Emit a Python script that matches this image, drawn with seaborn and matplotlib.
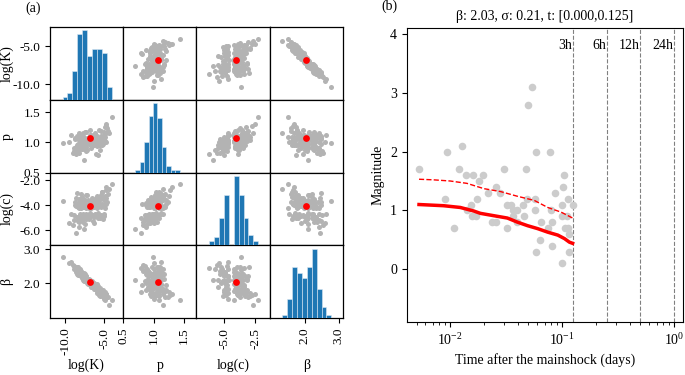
import matplotlib
matplotlib.use('Agg')
import matplotlib.pyplot as plt
from matplotlib import font_manager
import pandas as pd
import seaborn as sns
from matplotlib.ticker import FuncFormatter

# pick a Times-like serif that is actually installed
installed = {f.name for f in font_manager.fontManager.ttflist}
serif_choices = [f for f in ['Liberation Serif', 'Times New Roman', 'Nimbus Roman', 'FreeSerif']
                 if f in installed]
plt.rcParams['font.family'] = serif_choices + ['DejaVu Serif']
plt.rcParams['mathtext.fontset'] = 'stix'
plt.rcParams['font.size'] = 10

# posterior samples (grouped by log(c) band)
log_k = [-8.7,
         -7.6,
         -8.24, -6.29, -9.05, -7.49,
         -8.1, -9.5, -7.31, -8.42, -5.85, -7.79, -8.95, -6.45, -7.64, -8.3, -5.13, -7.95, -6.95,
         -8.85, -8.45, -8.17, -7.98, -7.82, -7.67, -7.46, -7.28, -7.1, -6.86, -6.66, -6.49,
         -6.33, -6.13, -5.97, -5.77, -5.57, -5.41, -5.21, -4.97, -8.35, -7.55, -9.3, -5.05,
         -8.8, -8.38, -7.93, -7.76, -7.52, -7.34, -7.15, -6.9, -6.7, -6.53, -6.37, -6.21,
         -6.05, -5.89, -5.73, -5.61, -5.45, -5.25, -5.09, -4.89, -4.73, -8.65, -8.27, -8.04,
         -7.9, -7.73, -7.58, -7.4, -7.25, -7.0, -6.78, -6.58, -6.41,
         -8.75, -5.81, -7.7, -6.25, -8.33, -5.17, -7.05, -4.6, -8.2, -6.17, -5.69, -7.61,
         -8.14, -5.01, -6.82, -4.93, -7.43, -8.07, -6.09, -5.65, -10.38, -7.88, -5.53, -6.74,
         -8.6, -5.49, -7.37, -6.01, -8.0, -4.85, -6.62, -5.37, -7.86, -4.45, -5.94, -4.81, -7.23,
         -8.55, -5.33, -4.77, -5.31, -4.3,
         -4.69, -4.02]

p_vals = [0.80,
          0.70,
          0.88, 0.95, 0.83, 0.90,
          0.93, 1.0, 0.86, 0.97, 0.79, 1.05, 0.9, 0.95, 0.89, 0.82, 1.03, 0.91, 0.98,
          0.86, 0.95, 1.01, 1.09, 0.89, 0.97, 1.03, 0.93, 1.05, 1.12, 0.91, 0.99,
          1.02, 1.16, 0.94, 1.04, 0.88, 1.08, 0.96, 1.0, 1.06, 0.98, 1.13, 1.045,
          1.05, 0.93, 1.12, 0.99, 1.17, 1.0, 0.87, 1.08, 1.03, 0.96, 1.13, 1.02,
          0.81, 1.1, 1.04, 0.95, 1.19, 1.06, 0.97, 1.09, 1.01, 0.925, 1.15, 1.04,
          0.9, 1.11, 1.0, 0.98, 1.07, 1.02, 1.2, 0.94, 1.1,
          1.07, 0.95, 1.15, 1.02, 0.87, 1.1, 1.04, 1.24, 0.97, 1.12, 1.0, 1.06,
          0.93, 1.18, 1.08, 1.03, 0.91, 1.11, 1.05, 1.2, 0.985, 1.09, 1.01, 1.13,
          1.08, 0.96, 1.17, 1.02, 1.12, 1.25, 0.99, 1.1, 1.05, 1.19, 1.07, 1.15, 1.03,
          1.11, 1.04, 1.27, 1.09, 1.16,
          1.30, 1.43]

log_c = [-6.2,
         -5.9,
         -5.72, -5.45, -5.6, -5.5,
         -5.2, -5.38, -5.09, -5.27, -5.04, -5.33, -5.14, -5.24, -5.03, -5.3, -5.11, -5.17, -5.06,
         -4.75, -4.93, -4.66, -5.01, -4.81, -4.69, -4.89, -4.72, -4.97, -4.64, -4.85, -4.78,
         -4.95, -4.7, -4.83, -4.65, -4.99, -4.74, -4.87, -4.68, -4.91, -4.79, -4.67, -4.86,
         -3.95, -4.12, -4.22, -3.88, -4.05, -4.18, -3.93, -4.1, -4.2, -3.99, -4.15, -4.03,
         -3.86, -4.23, -4.08, -3.97, -4.13, -3.91, -4.01, -4.17, -3.89, -4.06, -4.21, -3.94,
         -4.11, -4.0, -4.16, -3.87, -4.04, -4.19, -3.92, -4.09, -3.98,
         -3.7, -3.82, -3.55, -3.64, -3.79, -3.47, -3.6, -3.74, -3.51, -3.67, -3.84, -3.58,
         -3.72, -3.49, -3.62, -3.77, -3.53, -3.69, -3.81, -3.57, -3.65, -3.75, -3.5, -3.63,
         -3.42, -3.3, -3.15, -3.38, -3.08, -3.25, -3.44, -3.2, -3.34, -3.1, -3.28, -3.4, -3.18,
         -3.0, -2.9, -2.8, -2.95, -2.7,
         -2.5, -2.27]

beta = [2.44,
        2.10,
        2.42, 1.90, 2.54, 2.09,
        2.29, 2.60, 2.07, 2.47, 1.74, 2.26, 2.43, 2.02, 2.07, 2.35, 1.62, 2.35, 2.08,
        2.52, 2.26, 2.41, 2.22, 2.24, 2.23, 2.08, 2.22, 2.06, 2.09, 1.88, 1.96,
        2.00, 1.83, 1.97, 1.72, 1.81, 1.71, 1.76, 1.53, 2.33, 2.11, 2.62, 1.65,
        2.48, 2.24, 2.32, 2.25, 2.27, 2.23, 2.01, 2.14, 1.98, 2.02, 1.82, 1.90,
        1.95, 1.78, 1.92, 1.69, 1.78, 1.67, 1.74, 1.51, 1.66, 2.34, 2.41, 2.26,
        2.30, 2.11, 2.29, 2.10, 2.12, 2.09, 1.94, 2.08, 1.92,
        2.48, 1.80, 2.27, 1.99, 2.28, 1.81, 1.98, 1.61, 2.28, 1.96, 1.67, 2.21,
        2.24, 1.74, 2.07, 1.69, 2.09, 2.39, 1.83, 1.79, 2.78, 2.16, 1.86, 1.99,
        2.45, 1.64, 2.14, 1.94, 2.22, 1.74, 1.89, 1.80, 2.21, 1.61, 1.72, 1.68, 2.10,
        2.47, 1.71, 1.65, 1.62, 1.35,
        1.70, 1.52]

param_names = ['log(K)', 'p', 'log(c)', 'β']
best_fit = [-6.82, 1.067, -4.05, 2.03]
x_ticks = [[-10.0, -5.0], [0.5, 1.0, 1.5], [-5.0, -2.5], [2.0, 3.0]]
y_ticks = [[-10.0, -5.0], [0.5, 1.0, 1.5], [-6.0, -4.0, -2.0], [2.0, 3.0]]

# aftershocks in the first 3 hours
event_times = [0.00526, 0.0094, 0.0128, 0.0119, 0.0137, 0.016, 0.0197, 0.0182, 0.0089, 0.0152,
               0.0173, 0.0141, 0.0157, 0.0171, 0.0109, 0.0219, 0.0254, 0.0278, 0.030, 0.0236,
               0.0259, 0.032, 0.032, 0.0347, 0.0367, 0.0395, 0.0362, 0.0395, 0.0452, 0.0443,
               0.0484, 0.0474, 0.0583, 0.078, 0.0575, 0.0568, 0.0647, 0.0634, 0.0583, 0.0743,
               0.0813, 0.0791, 0.0865, 0.1035, 0.1028, 0.1117, 0.1007, 0.1239, 0.1, 0.1094,
               0.105, 0.1125, 0.114, 0.0818, 0.1148, 0.1, 0.0537, 0.0491]
event_mags = [1.7, 2.0, 2.1, 1.7, 1.6, 1.6, 1.6, 1.5, 1.2, 1.1,
              1.2, 1.0, 0.9, 0.9, 0.7, 1.3, 1.4, 1.3, 1.7, 0.8,
              0.8, 0.7, 1.1, 1.1, 1.0, 1.0, 0.9, 0.8, 0.9, 1.1,
              1.2, 1.7, 2.0, 2.0, 1.2, 1.0, 0.8, 0.5, 0.3, 0.7,
              0.8, 1.0, 1.3, 1.6, 1.4, 1.2, 1.1, 1.1, 0.9, 0.9,
              0.7, 0.7, 0.6, 0.4, 0.3, 0.1, 3.1, 2.8]

fit_times = [0.00526, 0.0087, 0.0123, 0.0162, 0.0186, 0.0245, 0.0324, 0.0399, 0.0491,
             0.0604, 0.0743, 0.0914, 0.105, 0.116, 0.124]
fit_mags = [1.10, 1.08, 1.05, 0.99, 0.95, 0.91, 0.87, 0.80, 0.74, 0.69, 0.63, 0.58, 0.52, 0.46, 0.44]
upper_times = [0.00526, 0.00708, 0.01, 0.0141, 0.02, 0.0282, 0.0399, 0.0564, 0.0743, 0.098, 0.124]
upper_mags = [1.53, 1.52, 1.50, 1.46, 1.37, 1.32, 1.24, 1.17, 1.05, 0.97, 0.87]

window_hours = [3, 6, 12, 24]

samples = pd.DataFrame({'log(K)': log_k, 'p': p_vals, 'log(c)': log_c, 'β': beta})

# ---- left: pair plot ----
g = sns.PairGrid(samples, vars=param_names, diag_sharey=False, despine=False, height=1.0)
g.map_diag(sns.histplot, bins=10, color='#1f77b4', alpha=1, edgecolor='#dbe8f3', linewidth=0.4)
g.map_offdiag(sns.scatterplot, color='#b3b3b3', s=13, linewidth=0)

fig = g.figure
fig.set_size_inches(6.85, 3.75)
fig.subplots_adjust(left=0.073, right=0.5007, bottom=0.152, top=0.928, wspace=0, hspace=0)

limits = [(-12.0, -2.52), (0.5, 1.71), (-7.2, -1.36), (0.98, 3.12)]
fmt = FuncFormatter(lambda v, pos: f'{v:.1f}')
n = len(param_names)
for i in range(n):
    for j in range(n):
        ax = g.axes[i, j]
        if i != j:
            ax.scatter(best_fit[j], best_fit[i], color='red', s=24, zorder=5, linewidths=0)
        ax.tick_params(left=(j == 0), bottom=(i == n - 1), labelsize=9.5)
        for s in ax.spines.values():
            s.set_linewidth(0.9)
for k in range(n):
    g.axes[0, k].set_xlim(limits[k])
    g.axes[k, 0].set_ylim(limits[k])
    g.axes[-1, k].set_xticks(x_ticks[k])
    g.axes[k, 0].set_yticks(y_ticks[k])
    g.axes[-1, k].xaxis.set_major_formatter(fmt)
    g.axes[k, 0].yaxis.set_major_formatter(fmt)
    g.axes[-1, k].tick_params(axis='x', labelrotation=90)
    g.axes[-1, k].set_xlabel(param_names[k], fontsize=10)
    g.axes[-1, k].xaxis.set_label_coords(0.5, -0.56)
    g.axes[k, 0].set_ylabel(param_names[k], fontsize=10)
    g.axes[k, 0].yaxis.set_label_coords(-0.5, 0.5)

# ---- right: magnitude vs time ----
ax2 = fig.add_axes([0.594, 0.141, 0.403, 0.784])
sns.scatterplot(x=event_times, y=event_mags, ax=ax2, color='#cccccc', s=30, linewidth=0, zorder=2)
sns.lineplot(x=fit_times, y=fit_mags, ax=ax2, color='red', linewidth=2.5, estimator=None, zorder=3)
sns.lineplot(x=upper_times, y=upper_mags, ax=ax2, color='red', linewidth=1, linestyle='--',
             estimator=None, zorder=3)
ax2.set_xscale('log')
ax2.set_xlim(0.0041, 1.2)
ax2.set_ylim(-0.9, 4.1)
ax2.set_yticks([0, 1, 2, 3, 4])
for h in window_hours:
    t = h / 24
    ax2.axvline(t, color='gray', linestyle='--', linewidth=0.8, zorder=1)
    ax2.text(t * 0.985, 3.8, f'{h}h', ha='right', va='center', fontsize=10)
ax2.set_title('β: 2.03, σ: 0.21, t: [0.000,0.125]', fontsize=10, pad=6)
ax2.set_xlabel('Time after the mainshock (days)', fontsize=10)
ax2.set_ylabel('Magnitude', fontsize=10)
ax2.tick_params(labelsize=10)

fig.text(0.048, 0.979, '(a)', ha='center', va='center', fontsize=10)
fig.text(0.569, 0.983, '(b)', ha='center', va='center', fontsize=10)

fig.savefig('out.png', dpi=100)
